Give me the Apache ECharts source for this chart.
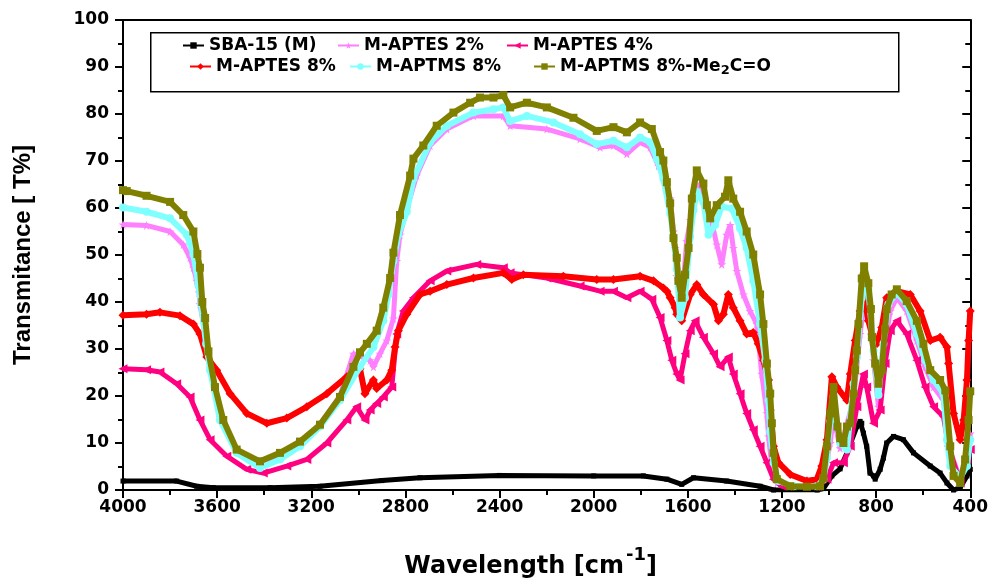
<!DOCTYPE html>
<html><head><meta charset="utf-8">
<script src="https://cdn.jsdelivr.net/npm/echarts@6/dist/echarts.min.js"></script>
<style>html,body{margin:0;padding:0;background:#fff}#c{width:991px;height:584px}</style>
</head><body><div id="c"></div>
<script>
// ---- data: [wavenumber cm-1, transmittance %] ----
const seriesNames = ['SBA-15 (M)', 'M-APTES 2%', 'M-APTES 4%', 'M-APTES 8%', 'M-APTMS 8%', 'M-APTMS 8%-Me2C=O'];
const xTickValues = [4000, 3600, 3200, 2800, 2400, 2000, 1600, 1200, 800, 400];
const yTickValues = [0, 10, 20, 30, 40, 50, 60, 70, 80, 90, 100];

const sba = [[4000,1.9],[3772,1.9],[3687,0.8],[3616,0.5],[3375,0.5],[3163,0.8],[2900,2],[2738,2.6],[2400,3.1],[2000,3.0],[1789,3.0],[1689,2.3],[1626,1.2],[1576,2.6],[1435,1.9],[1293,0.8],[1236,0],[1050,0],[1024,0.3],[988,3.0],[953,4.5],[924,7.9],[882,13.5],[868,14.6],[861,14.2],[854,12.1],[840,9.3],[826,3.6],[811,3.0],[804,2.3],[783,4.4],[769,6.8],[755,10],[726,11.4],[684,10.7],[641,7.9],[570,5.1],[528,3.6],[499,1.5],[471,0],[443,0.5],[414,3.0],[400,4.4]];

const aptes2 = [[4000,56.5],[3900,56.3],[3800,55],[3744,52.2],[3715,49.4],[3701,47.3],[3687,44.5],[3677,42],[3673,39.5],[3650,33],[3630,26],[3588,15.5],[3517,8.2],[3418,5.4],[3333,6.8],[3248,9.8],[3163,14],[3078,20],[3021,29],[2950,27.6],[2936,26.2],[2908,29],[2879,31.8],[2851,36.5],[2837,48.7],[2823,54.3],[2794,59.9],[2752,66.9],[2695,73.3],[2624,76.8],[2511,79.6],[2384,79.6],[2355,77.5],[2199,76.8],[2058,74.7],[1973,72.9],[1916,73.3],[1859,71.5],[1803,74],[1760,72.9],[1725,69],[1704,66.9],[1675,62],[1661,55],[1654,51.5],[1647,45.5],[1640,43],[1619,44.5],[1605,52.9],[1590,57.4],[1576,61.3],[1548,65.2],[1527,62],[1505,58.5],[1477,52.2],[1456,48],[1435,54.3],[1420,56.4],[1407,51.5],[1392,46.6],[1364,41.6],[1336,38.1],[1307,35.3],[1286,24.7],[1264,16.3],[1257,11.4],[1243,5.1],[1220,1.5],[1150,0.8],[1050,0.8],[1024,2.3],[995,10],[981,15.6],[953,8.9],[896,19.1],[868,33.2],[847,40.9],[826,37.4],[811,27.6],[790,17.7],[769,29],[740,38.1],[712,40.9],[670,38.1],[627,31.8],[592,26.2],[556,21.9],[514,19.1],[492,9.3],[443,2.3],[407,7.9],[400,12]];

const aptes4 = [[4000,25.8],[3900,25.6],[3843,25.1],[3772,22.6],[3715,19.8],[3673,14.9],[3630,10.7],[3559,7.2],[3474,4.4],[3404,3.6],[3304,5.1],[3219,6.5],[3134,10],[3049,14.9],[3007,17.7],[2972,14.9],[2950,17],[2922,18.4],[2894,19.8],[2858,21.9],[2837,33.2],[2809,38.1],[2766,40.9],[2695,44.5],[2624,46.6],[2497,48],[2384,47.3],[2355,46.2],[2199,45.1],[2058,43.4],[1973,42.3],[1916,42.3],[1859,40.9],[1803,42.3],[1753,40.6],[1718,36.7],[1689,31.8],[1668,27.6],[1647,24.7],[1633,23.4],[1612,29],[1590,33.9],[1569,36],[1534,32.5],[1491,29],[1463,26.2],[1428,28.3],[1407,24.7],[1378,20.5],[1350,16.3],[1322,12.8],[1293,9.3],[1264,5.8],[1236,2.3],[1200,0.8],[1050,0.8],[1009,2.3],[981,5.8],[939,5.8],[910,9.3],[882,17.7],[854,24.7],[840,21.9],[811,14.2],[783,17],[762,26.9],[740,33.9],[712,36],[670,33.2],[627,27.6],[592,21.9],[556,17.7],[514,15.6],[492,9.3],[443,1.5],[414,6.5],[400,8.6]];

const aptes8 = [[4000,37.2],[3900,37.4],[3843,37.8],[3758,37.1],[3701,35.3],[3673,33.2],[3644,28.3],[3602,25.5],[3545,20.5],[3474,16.3],[3389,14.2],[3304,15.3],[3219,17.7],[3134,20.5],[3049,24.1],[2993,25.8],[2972,20.5],[2936,23.4],[2922,21.6],[2879,23.4],[2858,25.5],[2844,30.4],[2830,33.9],[2794,37.4],[2738,41.6],[2695,42.3],[2624,43.7],[2511,45.1],[2384,46.2],[2348,44.8],[2299,45.8],[2129,45.5],[1987,44.8],[1916,44.8],[1803,45.5],[1746,44.5],[1704,43],[1689,42.3],[1675,40.9],[1654,38.8],[1647,37.4],[1626,36],[1590,41.6],[1562,43.7],[1534,41.6],[1491,39.5],[1470,36],[1449,37.4],[1428,41.6],[1407,38.8],[1378,36],[1350,33.2],[1322,33.5],[1301,31.1],[1279,27.6],[1257,23.4],[1250,17],[1236,9.3],[1215,5.8],[1165,3.3],[1094,1.9],[1052,2.3],[1031,5.1],[1009,10.7],[988,24.1],[967,21.9],[924,19.1],[910,24.7],[889,31.8],[868,38.1],[847,40.2],[833,36],[818,33.2],[797,31.1],[776,34.6],[755,40.9],[712,42.3],[655,41.6],[613,38.1],[570,31.8],[528,32.5],[499,30.4],[492,26.9],[471,16.3],[443,10.7],[428,14.9],[414,23.4],[407,31.8],[400,38.1]];

const aptms8 = [[4000,60.1],[3900,59.2],[3800,57.8],[3729,54.3],[3701,50.1],[3680,43.7],[3668,39.5],[3647,31.1],[3630,25.5],[3588,14.9],[3517,7.9],[3418,4.7],[3333,6.5],[3248,9.3],[3163,13.5],[3078,19.1],[2993,26.2],[2936,30.4],[2894,36.0],[2872,41.6],[2851,48.7],[2830,54.3],[2794,59.2],[2766,66.2],[2695,74],[2624,77.5],[2511,80.3],[2426,81],[2384,81.4],[2355,78.5],[2284,79.6],[2171,78.2],[2058,75.7],[1987,73.6],[1916,74.3],[1859,72.9],[1803,75.0],[1760,74],[1732,70.5],[1704,66.2],[1675,58.9],[1661,53.6],[1647,47],[1633,36.7],[1612,40.9],[1590,53.9],[1576,59.6],[1562,63.4],[1534,61.3],[1512,54.3],[1484,56.4],[1456,60.3],[1413,59.9],[1378,55.7],[1350,51.5],[1322,44.5],[1293,35.3],[1271,27.6],[1257,19.1],[1250,12.4],[1236,5.8],[1215,1.9],[1150,0.8],[1050,0.8],[1024,2.3],[1009,6.8],[995,14.6],[981,19.8],[953,10],[924,8.6],[896,22.6],[882,28.3],[861,40.9],[847,45.5],[833,42.7],[811,29.7],[790,20.2],[769,31.1],[748,39.5],[712,42],[670,39.5],[627,33.2],[592,27.6],[556,23.4],[514,20.5],[499,10.7],[485,5.1],[443,2.6],[414,5.1],[400,10.7]];

const aptmsMe = [[4000,63.8],[3984,63.6],[3900,62.6],[3800,61.3],[3744,58.5],[3701,55],[3684,50.2],[3673,47.3],[3663,40],[3651,36.6],[3637,29.5],[3609,21.9],[3574,14.9],[3517,8.6],[3418,6.1],[3333,7.9],[3248,10.3],[3163,13.9],[3078,19.8],[3021,26.2],[2993,29.3],[2964,31.1],[2922,33.9],[2894,38.8],[2865,45.1],[2851,50.5],[2823,58.5],[2780,66.9],[2766,70.5],[2724,73.3],[2667,77.5],[2596,80.3],[2525,82.4],[2483,83.5],[2426,83.5],[2384,84.0],[2355,81.4],[2284,82.4],[2199,81.4],[2086,79.2],[1987,76.4],[1916,77.2],[1859,76.1],[1803,78.2],[1753,76.8],[1718,71.9],[1704,70.1],[1689,65.5],[1675,61.0],[1661,53.6],[1647,49.4],[1640,44.5],[1626,40.9],[1612,45.8],[1597,51.5],[1583,62.0],[1562,68.0],[1534,65.2],[1519,60.6],[1505,57.8],[1477,60.6],[1442,62.4],[1428,65.9],[1407,62.0],[1378,59.2],[1350,55.0],[1322,50.1],[1293,41.6],[1279,35.3],[1264,26.9],[1250,20.5],[1243,14.2],[1236,7.9],[1222,2.3],[1165,0.8],[1094,0.7],[1038,0.8],[1024,2.5],[1009,9.3],[995,16.3],[981,21.9],[964,13.5],[953,11],[939,10],[924,13.5],[910,14.2],[896,20.5],[889,25.5],[882,29.7],[875,35.3],[861,45],[851,47.6],[833,44],[822,38.5],[818,32.5],[804,26.9],[790,22.6],[776,25.5],[762,34.2],[755,38.5],[734,41.6],[712,42.7],[670,40.2],[627,36.0],[599,31.1],[570,25.5],[528,23.4],[506,21.2],[485,9.3],[471,3.0],[443,1.5],[422,6.5],[407,14.9],[400,21]];

// ---- styling ----
const FONT = 'DejaVu Sans';
const STAR = 'path://M50,0 L61,35 L98,35 L68,57 L79,91 L50,70 L21,91 L32,57 L2,35 L39,35 Z';
const styles = [
  {data: sba,     color: '#000000', symbol: 'rect',     size: 5, rot: 0,  w: 5},
  {data: aptes2,  color: '#ff80ff', symbol: STAR,       size: 9, rot: 0,  w: 5},
  {data: aptes4,  color: '#ff0080', symbol: 'triangle', size: 9, rot: 90, w: 5},
  {data: aptes8,  color: '#ff0000', symbol: 'diamond',  size: 9, rot: 0,  w: 6},
  {data: aptms8,  color: '#80ffff', symbol: 'circle',   size: 8, rot: 0,  w: 6},
  {data: aptmsMe, color: '#808000', symbol: 'rect',     size: 8, rot: 0,  w: 6}
];

const series = styles.map((s, i) => ({
  name: seriesNames[i],
  type: 'line',
  data: s.data,
  symbol: s.symbol,
  symbolSize: s.size,
  symbolRotate: s.rot,
  showSymbol: true,
  showAllSymbol: true,
  animation: false,
  color: s.color,
  itemStyle: {color: s.color},
  lineStyle: {color: s.color, width: s.w},
  z: 2 + i
}));

const legendPos = [[182, 37], [337, 37], [506, 37], [189, 58], [349, 58], [533, 58]];
const legendText = {
  fontFamily: FONT, fontWeight: 'bold', fontSize: 17, color: '#000',
  rich: {
    n: {fontFamily: FONT, fontWeight: 'bold', fontSize: 17, color: '#000'},
    sub: {fontFamily: FONT, fontWeight: 'bold', fontSize: 13, color: '#000', padding: [9, 0, 0, 0]}
  }
};
const legends = seriesNames.map((n, i) => ({
  data: [n],
  left: legendPos[i][0], top: legendPos[i][1],
  padding: 0, itemWidth: 21, itemHeight: 8, itemGap: 5,
  lineStyle: {width: 2},
  selectedMode: false,
  textStyle: legendText,
  formatter: (name) => name.indexOf('Me2C') >= 0 ? '{n|M-APTMS 8%-Me}{sub|2}{n|C=O}' : name,
  z: 10
}));

const chart = echarts.init(document.getElementById('c'), null, {renderer: 'canvas'});
chart.setOption({
  animation: false,
  backgroundColor: '#fff',
  grid: {left: 123, top: 20, width: 848, height: 475, containLabel: false},
  legend: legends,
  xAxis: [{
    type: 'value', inverse: true, min: 400, max: 4000, interval: 400,
    position: 'bottom',
    axisLine: {onZero: false, lineStyle: {color: '#000', width: 2}},
    axisTick: {inside: false, length: 8, lineStyle: {color: '#000', width: 2}},
    minorTick: {show: true, splitNumber: 2, length: 5, lineStyle: {color: '#000', width: 2}},
    splitLine: {show: false},
    axisLabel: {margin: 9, fontFamily: FONT, fontWeight: 'bold', fontSize: 17, color: '#000',
      formatter: (v) => xTickValues.indexOf(v) >= 0 ? String(v) : ''},
    name: '{a|Wavelength [cm}{s|-1}{e|]}',
    nameLocation: 'middle', nameGap: 55,
    nameTextStyle: {rich: {
      a: {fontFamily: FONT, fontWeight: 'bold', fontSize: 24, color: '#000', padding: [10, 0, 0, 0]},
      s: {fontFamily: FONT, fontWeight: 'bold', fontSize: 18, color: '#000', padding: [0, 0, 14, 2]},
      e: {fontFamily: FONT, fontWeight: 'bold', fontSize: 24, color: '#000', padding: [10, 32, 0, 0]}
    }}
  }, {
    type: 'value', inverse: true, min: 400, max: 4000, interval: 400,
    position: 'top',
    axisLine: {onZero: false, lineStyle: {color: '#000', width: 2}},
    axisTick: {show: false}, axisLabel: {show: false}, splitLine: {show: false}
  }],
  yAxis: [{
    type: 'value', min: 0, max: 100, interval: 10,
    position: 'left',
    axisLine: {show: true, onZero: false, lineStyle: {color: '#000', width: 2}},
    axisTick: {show: true, inside: false, length: 8, lineStyle: {color: '#000', width: 2}},
    minorTick: {show: true, splitNumber: 2, length: 5, lineStyle: {color: '#000', width: 2}},
    splitLine: {show: false},
    axisLabel: {margin: 14, fontFamily: FONT, fontWeight: 'bold', fontSize: 17, color: '#000',
      formatter: (v) => yTickValues.indexOf(v) >= 0 ? String(v) : ''},
    name: 'Transmitance [ T%]',
    nameLocation: 'middle', nameRotate: 90, nameGap: 88,
    nameTextStyle: {fontFamily: 'Liberation Sans', fontWeight: 'bold', fontSize: 24, color: '#000'}
  }, {
    type: 'value', min: 0, max: 100, interval: 10,
    position: 'right',
    axisLine: {show: true, onZero: false, lineStyle: {color: '#000', width: 2}},
    axisTick: {show: true, inside: true, length: 8, lineStyle: {color: '#000', width: 2}},
    minorTick: {show: true, splitNumber: 2, length: 5, lineStyle: {color: '#000', width: 2}},
    splitLine: {show: false},
    axisLabel: {show: false}
  }],
  graphic: [{
    type: 'rect', left: 150, top: 32, z: 5,
    shape: {width: 748, height: 59},
    style: {fill: '#fff', stroke: '#000', lineWidth: 1.5}
  }],
  series: series
});
</script>
</body></html>
